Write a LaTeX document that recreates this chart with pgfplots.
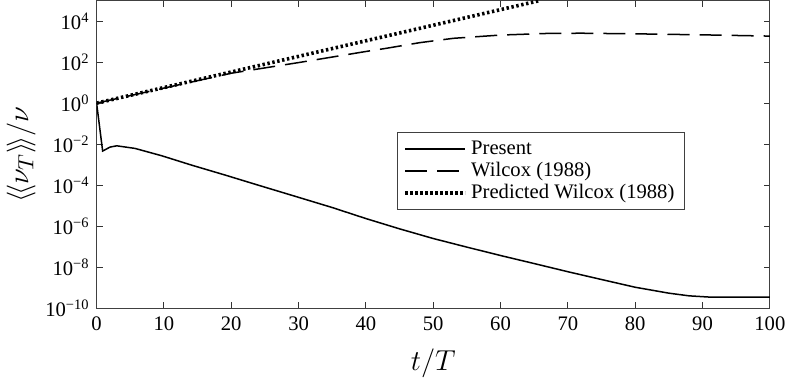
\documentclass[border=0pt]{standalone}
\usepackage{fontspec}
\setmainfont{Liberation Serif}
\usepackage{pgfplots}
\pgfplotsset{compat=1.18}
\begin{document}
\begin{tikzpicture}
\begin{axis}[
  scale only axis,
  width=336pt, height=153.5pt,
  ymode=log,
  xmin=0, xmax=100, ymin=1e-10, ymax=1e5,
  xtick={0,10,...,100},
  ytick={1e-10,1e-8,1e-6,1e-4,1e-2,1,1e2,1e4},
  yticklabels={10\textsuperscript{−10},10\textsuperscript{−8},10\textsuperscript{−6},10\textsuperscript{−4},10\textsuperscript{−2},10\textsuperscript{0},10\textsuperscript{2},10\textsuperscript{4}},
  minor ytick={},
  yminorticks=false,
  tick align=inside,
  major tick length=3pt,
  tick style={black!80, line width=0.5pt},
  axis line style={black!75, line width=0.6pt},
  ticklabel style={font=\fontsize{10.3}{12}\selectfont},
  /pgf/number format/assume math mode=true,
  xticklabel style={yshift=-1pt},
  xlabel={$t/T$},
  ylabel={$\langle\!\langle \nu_T \rangle\!\rangle / \nu$},
  label style={font=\fontsize{15}{18}\selectfont},
  xlabel style={yshift=-2pt},
  ylabel style={yshift=-2pt},
  legend style={at={(rel axis cs:0.446,0.573)}, anchor=north west,
    font=\fontsize{10.3}{11.5}\selectfont, draw=black!75, line width=0.6pt,
    row sep=-1.5pt, inner xsep=3pt, inner ysep=2pt, cells={anchor=west}},
  legend image code/.code={\draw[#1] (0cm,0cm) -- (30pt,0cm);},
]
\addplot[black, line width=0.75pt] coordinates {
(0,1) (0.9,4.6e-3) (2,7.2e-3) (3,8.3e-3) (5.7,6.2e-3) (9.7,2.7e-3) (14.1,9.5e-4)
(19.1,3.1e-4) (24,1.0e-4) (29,3.2e-5) (35,8.1e-6) (40,2.35e-6) (45,7.4e-7)
(50,2.5e-7) (55,9.5e-8) (60,3.7e-8) (65,1.5e-8) (70,6.0e-9) (75,2.5e-9)
(80,1.05e-9) (85,5.4e-10) (88,4.0e-10) (90.9,3.5e-10) (95,3.5e-10) (100,3.5e-10)
};
\addlegendentry{Present}
\addplot[black, line width=0.75pt, dash pattern=on 11pt off 5pt] coordinates {
(0,1) (10,5.4) (20,28.8) (30,95) (40,330) (43,470) (48,890) (53,1450) (60,2090)
(67,2510) (72,2570) (80,2400) (90,2140) (100,1860)
};
\addlegendentry{Wilcox (1988)}
\addplot[black, line width=1.8pt, dash pattern=on 1.2pt off 1.3pt] coordinates {
(0,1) (10,5.75) (20,33) (30,191) (40,1100) (50,6300) (60,36300) (65.8,1e5)
};
\addlegendentry{Predicted Wilcox (1988)}
\end{axis}
\end{tikzpicture}
\end{document}
